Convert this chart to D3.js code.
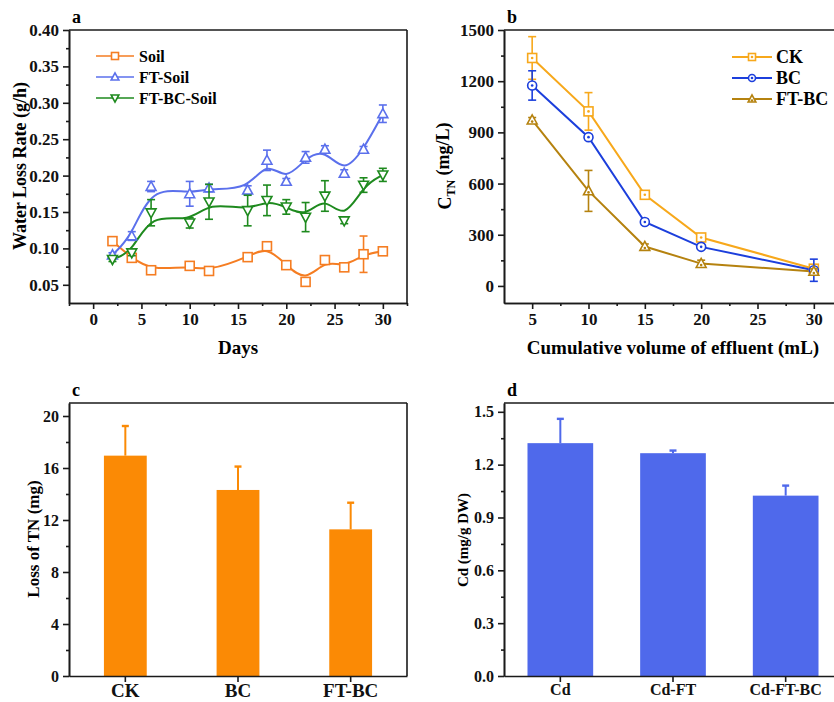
<!DOCTYPE html>
<html>
<head>
<meta charset="utf-8">
<script src="https://cdn.jsdelivr.net/npm/d3@7"></script>
<style>
  body { margin: 0; background: #fff; }
  svg { display: block; font-family: "Liberation Serif", "Times New Roman", serif; font-weight: bold; }
  .axis path, .axis line { stroke: #1a1a1a; stroke-width: 1.6; }
  .axis text { fill: #111; font-family: "Liberation Serif", "Times New Roman", serif; font-weight: bold; }
</style>
</head>
<body>
<script>
// ---- panel a : water loss rate
const days = [2, 4, 6, 10, 12, 16, 18, 20, 22, 24, 26, 28, 30];
const soil = [0.110, 0.087, 0.070, 0.076, 0.069, 0.088, 0.103, 0.077, 0.054, 0.084, 0.074, 0.092, 0.096];
const soilErr = [0.002, 0.003, 0.003, 0.002, 0.002, 0.002, 0.004, 0.003, 0.004, 0.003, 0.003, 0.025, 0.002];
const ftSoil = [0.091, 0.117, 0.185, 0.175, 0.183, 0.180, 0.221, 0.192, 0.225, 0.236, 0.203, 0.236, 0.285];
const ftSoilErr = [0.003, 0.006, 0.007, 0.017, 0.005, 0.006, 0.014, 0.004, 0.008, 0.005, 0.005, 0.004, 0.012];
const ftBcSoil = [0.085, 0.094, 0.149, 0.135, 0.164, 0.152, 0.166, 0.157, 0.143, 0.172, 0.138, 0.187, 0.201];
const ftBcSoilErr = [0.003, 0.004, 0.018, 0.007, 0.024, 0.021, 0.021, 0.010, 0.020, 0.021, 0.004, 0.010, 0.009];

// ---- panel b : TN concentration in effluent
const volumes = [5, 10, 15, 20, 30];
const ck = [1336, 1023, 534, 284, 101];
const ckErr = [125, 110, 15, 20, 10];
const bc = [1175, 872, 375, 229, 92];
const bcErr = [86, 15, 15, 10, 65];
const ftbc = [972, 557, 231, 131, 85];
const ftbcErr = [15, 120, 15, 20, 15];

// ---- panel c : loss of TN
const tnGroups = ["CK", "BC", "FT-BC"];
const tnLoss = [16.95, 14.31, 11.28];
const tnErr = [2.28, 1.80, 2.05];

// ---- panel d : Cd
const cdGroups = ["Cd", "Cd-FT", "Cd-FT-BC"];
const cdVals = [1.322, 1.265, 1.024];
const cdErr = [0.138, 0.015, 0.057];

const svg = d3.select("body").append("svg")
  .attr("width", 834)
  .attr("height", 702);

svg.append("rect").attr("width", 834).attr("height", 702).attr("fill", "#fff");

// frame + axes helper
function frame(x, y, box, opt) {
  const g = svg.append("g");
  // minor ticks first
  if (opt.yMinor) {
    g.append("g").attr("class", "axis").attr("transform", `translate(${box.l},0)`)
      .call(d3.axisLeft(y).tickValues(opt.yMinor).tickSize(3).tickSizeOuter(0).tickFormat(""));
  }
  if (opt.xMinor) {
    g.append("g").attr("class", "axis").attr("transform", `translate(0,${box.b})`)
      .call(d3.axisBottom(x).tickValues(opt.xMinor).tickSize(3).tickSizeOuter(0).tickFormat(""));
  }
  const ya = g.append("g").attr("class", "axis").attr("transform", `translate(${box.l},0)`)
    .call(d3.axisLeft(y).tickValues(opt.yTicks).tickSize(6).tickSizeOuter(0).tickPadding(4).tickFormat(opt.yFmt));
  ya.selectAll("text").style("font-size", opt.yFont + "px");
  let xAxis = d3.axisBottom(x).tickSize(6).tickSizeOuter(0).tickPadding(opt.xPad || 4);
  if (opt.xTicks) xAxis = xAxis.tickValues(opt.xTicks);
  const xa = g.append("g").attr("class", "axis").attr("transform", `translate(0,${box.b})`)
    .call(xAxis);
  xa.selectAll("text").style("font-size", opt.xFont + "px");
  // top / right border
  g.append("line").attr("x1", box.l).attr("x2", box.r).attr("y1", box.t).attr("y2", box.t)
    .attr("stroke", "#1a1a1a").attr("stroke-width", 1.6);
  g.append("line").attr("x1", box.r).attr("x2", box.r).attr("y1", box.t).attr("y2", box.b)
    .attr("stroke", "#1a1a1a").attr("stroke-width", 1.6);
  // panel letter
  svg.append("text").attr("x", box.l + 3).attr("y", box.t - 7)
    .style("font-size", "18px").text(opt.letter);
  return g;
}

function yTitle(x, y, size, txt) {
  return svg.append("text")
    .attr("transform", `translate(${x},${y}) rotate(-90)`)
    .attr("text-anchor", "middle").attr("dy", "0.35em")
    .style("font-size", size + "px").text(txt);
}

function errBars(g, xs, ys, es, x, y, color, cap) {
  xs.forEach(function(v, i) {
    const cx = x(v);
    const y1 = y(ys[i] - es[i]), y2 = y(ys[i] + es[i]);
    g.append("line").attr("x1", cx).attr("x2", cx).attr("y1", y1).attr("y2", y2)
      .attr("stroke", color).attr("stroke-width", 1.6);
    [y1, y2].forEach(function(yy) {
      g.append("line").attr("x1", cx - cap).attr("x2", cx + cap).attr("y1", yy).attr("y2", yy)
        .attr("stroke", color).attr("stroke-width", 1.6);
    });
  });
}

// marker drawing
function marker(g, kind, cx, cy, color, s, dot) {
  if (kind === "square") {
    g.append("rect").attr("x", cx - s).attr("y", cy - s).attr("width", 2 * s).attr("height", 2 * s)
      .attr("fill", "#fff").attr("stroke", color).attr("stroke-width", 1.6);
  } else if (kind === "circle") {
    g.append("circle").attr("cx", cx).attr("cy", cy).attr("r", s)
      .attr("fill", "#fff").attr("stroke", color).attr("stroke-width", 1.6);
  } else {
    const up = kind === "up" ? 1 : -1;
    const h = s * 1.15;
    const pts = [[cx, cy - up * h], [cx - s * 1.1, cy + up * h * 0.75], [cx + s * 1.1, cy + up * h * 0.75]];
    g.append("path").attr("d", "M" + pts.join("L") + "Z")
      .attr("fill", "#fff").attr("stroke", color).attr("stroke-width", 1.6);
  }
  if (dot) {
    g.append("circle").attr("cx", cx).attr("cy", cy + (kind === "up" ? 1.5 : 0)).attr("r", 1.3).attr("fill", color);
  }
}

// ================= panel a =================
const boxA = {l: 69, r: 407, t: 30, b: 303};
const xA = d3.scaleLinear().domain([-2.5, 32.5]).range([boxA.l, boxA.r]);
const yA = d3.scaleLinear().domain([0.025, 0.40]).range([boxA.b, boxA.t]);
frame(xA, yA, boxA, {
  yTicks: d3.range(0.05, 0.401, 0.05), yMinor: d3.range(0.075, 0.4, 0.05),
  xTicks: d3.range(0, 31, 5), xMinor: d3.range(-2.5, 33, 5),
  yFmt: d3.format(".2f"), yFont: 17, xFont: 17, letter: "a"
});
yTitle(20, 166, 18, "Water Loss Rate (g/h)");
svg.append("text").attr("x", (boxA.l + boxA.r) / 2).attr("y", 354).attr("text-anchor", "middle")
  .style("font-size", "19px").text("Days");

const seriesA = [
  {name: "Soil", vals: soil, err: soilErr, color: "#f57d22", kind: "square"},
  {name: "FT-Soil", vals: ftSoil, err: ftSoilErr, color: "#5b70ec", kind: "up"},
  {name: "FT-BC-Soil", vals: ftBcSoil, err: ftBcSoilErr, color: "#1e8a1e", kind: "down"}
];
const curveA = d3.line().curve(d3.curveBasis).x(d => xA(d[0])).y(d => yA(d[1]));
const gA = svg.append("g");
seriesA.forEach(function(s) {
  gA.append("path").datum(days.map((d, i) => [d, s.vals[i]]))
    .attr("d", curveA).attr("fill", "none").attr("stroke", s.color).attr("stroke-width", 2);
});
seriesA.forEach(function(s) {
  errBars(gA, days, s.vals, s.err, xA, yA, s.color, 4);
  days.forEach((d, i) => marker(gA, s.kind, xA(d), yA(s.vals[i]), s.color, 4.5));
});
// legend a
seriesA.forEach(function(s, i) {
  const ly = 56 + i * 21;
  gA.append("line").attr("x1", 96).attr("x2", 134).attr("y1", ly).attr("y2", ly)
    .attr("stroke", s.color).attr("stroke-width", 1.6);
  marker(gA, s.kind, 115, ly, s.color, 3.5);
  gA.append("text").attr("x", 139).attr("y", ly).attr("dy", "0.35em")
    .style("font-size", "16px").text(s.name);
});

// ================= panel b =================
const boxB = {l: 504, r: 842, t: 30, b: 303};
const xB = d3.scaleLinear().domain([2.5, 32.5]).range([boxB.l, boxB.r]);
const yB = d3.scaleLinear().domain([-100, 1500]).range([boxB.b, boxB.t]);
frame(xB, yB, boxB, {
  yTicks: d3.range(0, 1501, 300), yMinor: d3.range(150, 1500, 300),
  xTicks: d3.range(5, 31, 5), xMinor: d3.range(7.5, 33, 5),
  yFmt: d3.format("d"), yFont: 17, xFont: 17, letter: "b"
});
const tB = yTitle(446, 166, 18, null);
tB.append("tspan").text("C");
tB.append("tspan").attr("dy", "0.3em").style("font-size", "12px").text("TN");
tB.append("tspan").attr("dy", "-0.3em").text(" (mg/L)");
tB.attr("dy", null).attr("transform", "translate(451,166) rotate(-90)");
svg.append("text").attr("x", (boxB.l + boxB.r) / 2).attr("y", 354).attr("text-anchor", "middle")
  .style("font-size", "19px").text("Cumulative volume of effluent (mL)");

const seriesB = [
  {name: "CK", vals: ck, err: ckErr, color: "#f7a81b", kind: "square"},
  {name: "BC", vals: bc, err: bcErr, color: "#1c3fdc", kind: "circle"},
  {name: "FT-BC", vals: ftbc, err: ftbcErr, color: "#b5820f", kind: "up"}
];
const lineB = d3.line().x(d => xB(d[0])).y(d => yB(d[1]));
const gB = svg.append("g");
seriesB.forEach(function(s) {
  gB.append("path").datum(volumes.map((v, i) => [v, s.vals[i]]))
    .attr("d", lineB).attr("fill", "none").attr("stroke", s.color).attr("stroke-width", 2);
});
seriesB.forEach(function(s) {
  errBars(gB, volumes, s.vals, s.err, xB, yB, s.color, 4);
  volumes.forEach((v, i) => marker(gB, s.kind, xB(v), yB(s.vals[i]), s.color, 4.5, true));
});
seriesB.forEach(function(s, i) {
  const ly = 57 + i * 21;
  gB.append("line").attr("x1", 732).attr("x2", 772).attr("y1", ly).attr("y2", ly)
    .attr("stroke", s.color).attr("stroke-width", 1.8);
  marker(gB, s.kind, 752, ly, s.color, 3.5, true);
  gB.append("text").attr("x", 776).attr("y", ly).attr("dy", "0.35em")
    .style("font-size", "18px").text(s.name);
});

// ================= bar panels =================
function barPanel(box, groups, vals, errs, yMax, ticks, minor, fmt, color, pad, opt) {
  const x = d3.scaleBand().domain(groups).range([box.l, box.r]).paddingInner(pad).paddingOuter(pad / 2);
  const y = d3.scaleLinear().domain([0, yMax]).range([box.b, box.t]);
  const g = svg.append("g");
  g.selectAll("rect.bar").data(groups).enter().append("rect")
    .attr("class", "bar")
    .attr("x", d => x(d))
    .attr("y", (d, i) => y(vals[i]))
    .attr("width", x.bandwidth())
    .attr("height", (d, i) => y(0) - y(vals[i]))
    .attr("fill", color);
  groups.forEach(function(d, i) {
    const cx = x(d) + x.bandwidth() / 2;
    g.append("line").attr("x1", cx).attr("x2", cx).attr("y1", y(vals[i])).attr("y2", y(vals[i] + errs[i]))
      .attr("stroke", color).attr("stroke-width", 2);
    g.append("line").attr("x1", cx - 3.5).attr("x2", cx + 3.5)
      .attr("y1", y(vals[i] + errs[i])).attr("y2", y(vals[i] + errs[i]))
      .attr("stroke", color).attr("stroke-width", 2.4);
  });
  frame(x, y, box, {yTicks: ticks, yMinor: minor, yFmt: fmt, yFont: opt.yFont, xFont: opt.xFont,
    xPad: 2, letter: opt.letter});
}

const boxC = {l: 69, r: 407, t: 403, b: 676};
barPanel(boxC, tnGroups, tnLoss, tnErr, 21, d3.range(0, 21, 4), d3.range(2, 21, 4), d3.format("d"),
  "#fb8a05", 0.62, {yFont: 16, xFont: 19, letter: "c"});
yTitle(33, 539, 17, "Loss of TN (mg)");

const boxD = {l: 504, r: 842, t: 403, b: 676};
barPanel(boxD, cdGroups, cdVals, cdErr, 1.55, d3.range(0, 1.51, 0.3), d3.range(0.15, 1.5, 0.3), d3.format(".1f"),
  "#4f69eb", 0.417, {yFont: 16, xFont: 16, letter: "d"});
yTitle(463, 540, 15, "Cd (mg/g DW)");
</script>
</body>
</html>
